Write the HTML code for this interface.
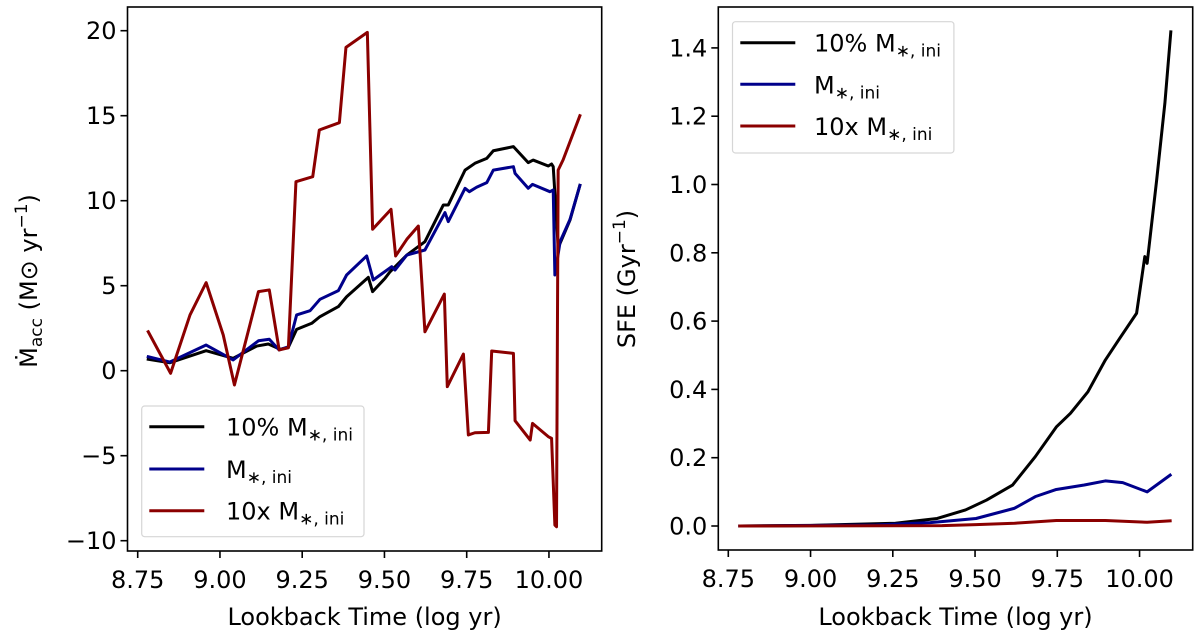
<!DOCTYPE html>
<html><head><meta charset="utf-8">
<style>
html,body{margin:0;padding:0;background:#fff;}
svg{display:block;font-family:"DejaVu Sans","Liberation Sans",sans-serif;}
</style></head>
<body>
<svg id="chart" width="1200" height="638" viewBox="0 0 1200 638" xmlns="http://www.w3.org/2000/svg">
<rect width="1200" height="638" fill="#fff"/>
<g id="left"></g>
<g id="right"></g>
</svg>
<script>
// ---- Left panel data (accretion rate) ----
const accBlackX = [8.782,8.848,8.958,9.04,9.112,9.147,9.183,9.208,9.233,9.279,9.304,9.36,9.385,9.451,9.464,9.502,9.517,9.568,9.623,9.679,9.694,9.745,9.775,9.811,9.831,9.892,9.937,9.952,9.998,10.008,10.013,10.028,10.034,10.064,10.094];
const accBlackY = [0.67,0.47,1.18,0.73,1.45,1.57,1.26,1.38,2.43,2.79,3.18,3.77,4.35,5.49,4.65,5.44,5.82,6.8,7.59,9.75,9.75,11.8,12.2,12.49,12.94,13.18,12.24,12.39,12.04,12.16,12.0,7.3,7.5,8.86,10.9];
const accBlueX = [8.782,8.848,8.958,9.04,9.117,9.15,9.18,9.208,9.233,9.274,9.304,9.36,9.385,9.446,9.466,9.522,9.532,9.568,9.623,9.684,9.694,9.745,9.758,9.78,9.811,9.831,9.892,9.897,9.937,9.95,10.003,10.013,10.018,10.034,10.064,10.094];
const accBlueY = [0.82,0.51,1.51,0.63,1.76,1.85,1.22,1.41,3.28,3.53,4.2,4.71,5.63,6.75,5.34,6.12,5.92,6.8,7.1,9.3,8.77,10.73,10.53,10.79,11.06,11.8,12.0,11.61,10.73,10.96,10.53,10.63,5.63,7.6,8.9,10.9];
const accRedX = [8.782,8.85,8.909,8.958,9.01,9.044,9.117,9.15,9.18,9.208,9.231,9.282,9.302,9.363,9.383,9.448,9.464,9.52,9.534,9.568,9.603,9.623,9.682,9.691,9.74,9.755,9.775,9.816,9.826,9.892,9.897,9.943,9.95,9.998,10.008,10.018,10.023,10.028,10.043,10.094];
const accRedY = [2.29,-0.15,3.28,5.18,2.1,-0.84,4.65,4.75,1.22,1.35,11.12,11.41,14.16,14.59,19.02,19.9,8.32,9.49,6.75,7.73,8.51,2.29,4.51,-0.94,0.98,-3.78,-3.65,-3.63,1.16,1.02,-2.94,-4.08,-3.1,-3.88,-3.98,-9.08,-9.18,11.8,12.4,15.0];
const leftYTicks = [-10,-5,0,5,10,15,20];
const leftYLabels = ["\u221210","\u22125","0","5","10","15","20"];
const xTicks = [8.75,9.0,9.25,9.5,9.75,10.0];
const xLabels = ["8.75","9.00","9.25","9.50","9.75","10.00"];

// ---- Right panel data (SFE) ----
const sfeBlackX = [8.785,9.0,9.258,9.385,9.471,9.535,9.614,9.683,9.747,9.79,9.843,9.896,9.94,9.991,10.016,10.023,10.052,10.077,10.095];
const sfeBlackY = [0,0.002,0.008,0.022,0.047,0.076,0.12,0.203,0.29,0.33,0.393,0.486,0.55,0.623,0.789,0.769,1.013,1.238,1.447];
const sfeBlueX = [8.785,9.2,9.364,9.503,9.62,9.683,9.747,9.832,9.896,9.949,10.023,10.093];
const sfeBlueY = [0,0.003,0.01,0.022,0.052,0.086,0.107,0.12,0.132,0.127,0.1,0.149];
const sfeRedX = [8.785,9.4,9.503,9.62,9.747,9.896,10.023,10.093];
const sfeRedY = [0,0.001,0.004,0.008,0.016,0.016,0.011,0.015];
const rightYTicks = [0,0.2,0.4,0.6,0.8,1.0,1.2,1.4];
const rightYLabels = ["0.0","0.2","0.4","0.6","0.8","1.0","1.2","1.4"];

const NS = "http://www.w3.org/2000/svg";
function mk(tag, attrs, parent){const e=document.createElementNS(NS,tag);for(const k in attrs)e.setAttribute(k,attrs[k]);parent.appendChild(e);return e;}

const L = {x0:127.5,x1:601.7,y0:7,y1:551, xs:v=>137.7+(v-8.75)*329, ys:v=>370.7-v*17};
const R = {x0:718.3,x1:1192.7,y0:7,y1:550, xs:v=>728.3+(v-8.75)*329, ys:v=>526-v*341.5};

function line(g, P, xs, ys, color, name){
  const d = xs.map((x,i)=>(i?"L":"M")+P.xs(x).toFixed(2)+","+P.ys(ys[i]).toFixed(2)).join(" ");
  const p = mk("path",{d:d,fill:"none",stroke:color,"stroke-width":3,"stroke-linejoin":"round","stroke-linecap":"square"},g);
  
  
}
function axes(g, P, yt, yl){
  xTicks.forEach((t,i)=>{
    const x=P.xs(t);
    const tk=mk("line",{x1:x,x2:x,y1:P.y1,y2:P.y1+7,stroke:"#000","stroke-width":1.6},g);
    
    
    const tx=mk("text",{x:x,y:P.y1+37,"text-anchor":"middle","font-size":24,fill:"#000"},g);
    tx.textContent=xLabels[i];
    
    
  });
  yt.forEach((t,i)=>{
    const y=P.ys(t);
    const tk=mk("line",{x1:P.x0-7,x2:P.x0,y1:y,y2:y,stroke:"#000","stroke-width":1.6},g);
    
    
    const tx=mk("text",{x:P.x0-11,y:y+8.5,"text-anchor":"end","font-size":24,fill:"#000"},g);
    tx.textContent=yl[i];
    
    
  });
  const xl=mk("text",{x:(P.x0+P.x1)/2,y:625,"text-anchor":"middle","font-size":24,fill:"#000"},g);
  xl.textContent="Lookback Time (log yr)";
  
  
}
function frame(g,P){
  const r=mk("rect",{x:P.x0,y:P.y0,width:P.x1-P.x0,height:P.y1-P.y0,fill:"none",stroke:"#000","stroke-width":1.6},g);
  
  
}
function legend(g, bx, by, bw, bh, hx, hl, ys, tx){
  const r=mk("rect",{x:bx,y:by,width:bw,height:bh,rx:3,fill:"#fff","fill-opacity":0.8,stroke:"#d6d6d6","stroke-width":1.2},g);
  
  
  const cols=["#000","#00008b","#8b0000"];
  const pre=["10% M","M","10x M"];
  cols.forEach((c,i)=>{
    const l=mk("line",{x1:hx,x2:hx+hl,y1:ys[i],y2:ys[i],stroke:c,"stroke-width":3},g);
    
    
    const t=mk("text",{x:tx,y:ys[i]+9,"font-size":24,fill:"#000"},g);
    
    
    t.appendChild(document.createTextNode(pre[i]));
    const s=mk("tspan",{"font-size":17,dy:5},t);
    s.textContent="\u2217, ini";
  });
}

// LEFT
const gl=document.getElementById("left");
axes(gl,L,leftYTicks,leftYLabels);
line(gl,L,accBlackX,accBlackY,"#000","line-10pct-mini");
line(gl,L,accBlueX,accBlueY,"#00008b","line-mini");
line(gl,L,accRedX,accRedY,"#8b0000","line-10x-mini");
frame(gl,L);
legend(gl,141.7,406,222.3,130.7,149.3,55,[426.7,469,510.7],226);
const yl1=mk("text",{transform:"translate(37,281) rotate(-90)","text-anchor":"middle","font-size":24,fill:"#000"},gl);


yl1.appendChild(document.createTextNode("\u1E40"));
const sb=mk("tspan",{"font-size":17,dy:5},yl1); sb.textContent="acc";
const rest=mk("tspan",{dy:-5},yl1); rest.textContent=" (M\u2299 yr";
const sp=mk("tspan",{"font-size":17,dy:-10},yl1); sp.textContent="\u22121";
const cl=mk("tspan",{dy:10},yl1); cl.textContent=")";

// RIGHT
const gr=document.getElementById("right");
axes(gr,R,rightYTicks,rightYLabels);
line(gr,R,sfeBlackX,sfeBlackY,"#000","sfe-line-10pct-mini");
line(gr,R,sfeBlueX,sfeBlueY,"#00008b","sfe-line-mini");
line(gr,R,sfeRedX,sfeRedY,"#8b0000","sfe-line-10x-mini");
frame(gr,R);
legend(gr,732.5,21.7,221.4,131.3,740.3,55,[42.7,84.3,126],814);
const yl2=mk("text",{transform:"translate(635,279) rotate(-90)","text-anchor":"middle","font-size":24,fill:"#000"},gr);


yl2.appendChild(document.createTextNode("SFE (Gyr"));
const sp2=mk("tspan",{"font-size":17,dy:-10},yl2); sp2.textContent="\u22121";
const cl2=mk("tspan",{dy:10},yl2); cl2.textContent=")";
</script>
</body></html>
